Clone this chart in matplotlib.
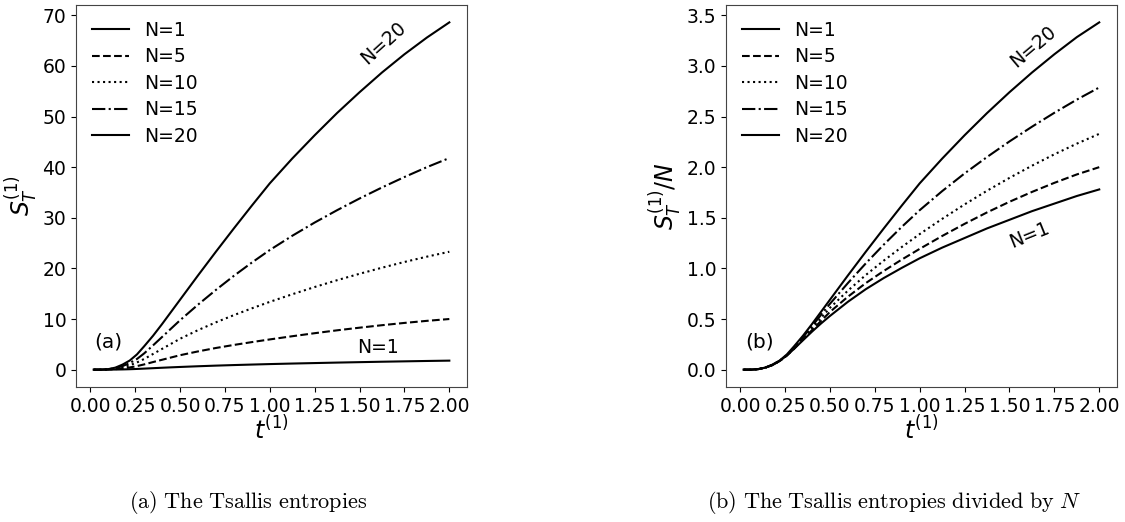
import numpy as np
import matplotlib
matplotlib.use('Agg')
import matplotlib.pyplot as plt

# time grid
t = [0.02, 0.06, 0.10, 0.14, 0.18, 0.22, 0.26, 0.30, 0.35, 0.40, 0.45, 0.50,
     0.60, 0.70, 0.80, 0.90, 1.00, 1.125, 1.25, 1.375, 1.50, 1.625, 1.75, 1.875, 2.00]

n_values = [1, 5, 10, 15, 20]
styles = ['-', '--', ':', '-.', '-']

# (a) S_T
s_n1 = [0.0, 0.0, 0.005, 0.02, 0.045, 0.085, 0.14, 0.205, 0.29, 0.375, 0.455, 0.53,
        0.67, 0.795, 0.905, 1.005, 1.10, 1.205, 1.30, 1.395, 1.48, 1.565, 1.64, 1.715, 1.78]
s_n5 = [0.0, 0.0, 0.025, 0.1, 0.23, 0.43, 0.7, 1.03, 1.5, 1.95, 2.4, 2.85,
        3.6, 4.28, 4.88, 5.44, 5.97, 6.6, 7.2, 7.77, 8.29, 8.78, 9.23, 9.64, 10.0]
s_n10 = [0.0, 0.0, 0.05, 0.2, 0.46, 0.86, 1.42, 2.1, 3.1, 4.1, 5.1, 6.1,
         7.8, 9.35, 10.77, 12.11, 13.39, 14.89, 16.32, 17.67, 18.94, 20.14, 21.27, 22.32, 23.29]
s_n15 = [0.0, 0.0, 0.075, 0.3, 0.7, 1.3, 2.1, 3.2, 4.8, 6.45, 8.1, 9.75,
         12.83, 15.75, 18.53, 21.15, 23.63, 26.44, 29.06, 31.5, 33.81, 35.99, 38.05, 40.0, 41.8]
s_n20 = [0.0, 0.0, 0.1, 0.4, 1.0, 1.8, 3.0, 4.6, 6.7, 9.0, 11.4, 13.8,
         18.6, 23.3, 27.9, 32.4, 36.8, 41.7, 46.3, 50.7, 54.8, 58.7, 62.3, 65.6, 68.6]

# (b) S_T / N
r_n1 = [0.0, 0.0, 0.005, 0.02, 0.045, 0.085, 0.14, 0.205, 0.29, 0.375, 0.455, 0.53,
        0.67, 0.795, 0.905, 1.005, 1.10, 1.205, 1.30, 1.395, 1.48, 1.565, 1.64, 1.715, 1.78]
r_n5 = [0.0, 0.0, 0.005, 0.02, 0.046, 0.086, 0.14, 0.205, 0.30, 0.39, 0.48, 0.57,
        0.72, 0.855, 0.975, 1.087, 1.193, 1.32, 1.44, 1.553, 1.658, 1.755, 1.845, 1.928, 2.0]
r_n10 = [0.0, 0.0, 0.005, 0.02, 0.046, 0.086, 0.142, 0.21, 0.31, 0.41, 0.51, 0.61,
         0.78, 0.935, 1.077, 1.211, 1.339, 1.489, 1.632, 1.767, 1.894, 2.014, 2.127, 2.232, 2.329]
r_n15 = [0.0, 0.0, 0.005, 0.02, 0.047, 0.087, 0.14, 0.213, 0.32, 0.43, 0.54, 0.65,
         0.855, 1.05, 1.235, 1.41, 1.575, 1.763, 1.938, 2.10, 2.254, 2.399, 2.537, 2.667, 2.787]
r_n20 = [0.0, 0.0, 0.005, 0.02, 0.05, 0.09, 0.15, 0.23, 0.335, 0.45, 0.57, 0.69,
         0.93, 1.165, 1.395, 1.62, 1.84, 2.084, 2.315, 2.534, 2.74, 2.934, 3.115, 3.284, 3.43]

left_series = [s_n1, s_n5, s_n10, s_n15, s_n20]
right_series = [r_n1, r_n5, r_n10, r_n15, r_n20]

fs = 13.5
fig = plt.figure(figsize=(11.25, 5.22), dpi=100)
ax1 = fig.add_axes([0.0676, 0.2586, 0.3476, 0.7318])
ax2 = fig.add_axes([0.6453, 0.2586, 0.3476, 0.7318])

for ax, series in [(ax1, left_series), (ax2, right_series)]:
    for n, ls, ys in zip(n_values, styles, series):
        ax.plot(t, ys, ls, color='black', lw=1.5, label='N=%d' % n)
    ax.legend(loc='upper left', frameon=False, fontsize=fs, handlelength=2.0,
              borderaxespad=0.45, labelspacing=0.4)
    ax.tick_params(labelsize=fs)
    ax.set_xticks(np.arange(0, 2.01, 0.25))
    ax.set_xlabel(r'$t^{(1)}$', fontsize=17, labelpad=0)
    for sp in ax.spines.values():
        sp.set_color('#444444')

ax1.set_yticks(np.arange(0, 71, 10))
ax1.set_ylabel(r'$S_T^{(1)}$', fontsize=17, labelpad=2)
ax1.text(1.63, 64.6, 'N=20', fontsize=fs, rotation=42, ha='center', va='center')
ax1.text(1.60, 4.3, 'N=1', fontsize=fs, ha='center', va='center')
ax1.text(0.10, 5.4, '(a)', fontsize=fs + 1, ha='center', va='center')

ax2.set_yticks(np.arange(0, 3.6, 0.5))
ax2.set_ylabel(r'$S_T^{(1)}/N$', fontsize=17, labelpad=2)
ax2.text(1.63, 3.19, 'N=20', fontsize=fs, rotation=40, ha='center', va='center')
ax2.text(1.61, 1.33, 'N=1', fontsize=fs, rotation=22, ha='center', va='center')
ax2.text(0.11, 0.27, '(b)', fontsize=fs + 1, ha='center', va='center')

fig.text(248 / 1125, 1 - 503 / 522, r'$\mathrm{(a)\ The\ Tsallis\ entropies}$',
         fontsize=16, ha='center', va='center', math_fontfamily='cm')
fig.text(894 / 1125, 1 - 503 / 522,
         r'$\mathrm{(b)\ The\ Tsallis\ entropies\ divided\ by\ }N$',
         fontsize=16, ha='center', va='center', math_fontfamily='cm')

fig.savefig('out.png', dpi=100)
